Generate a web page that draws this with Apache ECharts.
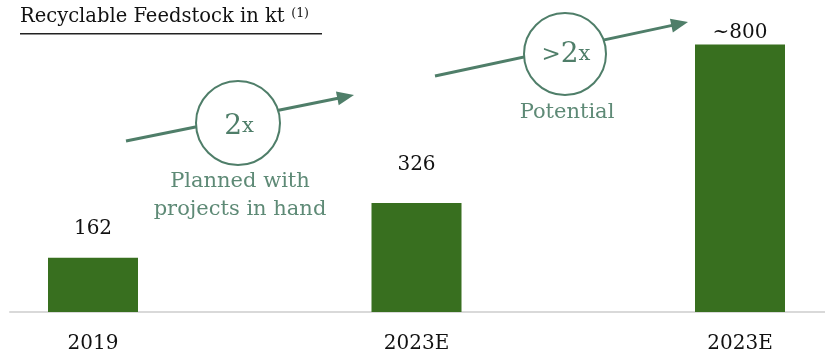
<!DOCTYPE html>
<html>
<head>
<meta charset="utf-8">
<script src="https://cdn.jsdelivr.net/npm/echarts@6/dist/echarts.min.js"></script>
<style>
  html, body { margin: 0; padding: 0; background: #ffffff; }
  #chart { width: 825px; height: 355px; }
</style>
</head>
<body>
<div id="chart"></div>
<script>
// Recyclable feedstock volumes (kt)
const categories = ['2019', '2023E', '2023E'];
const feedstock = [162, 326, 800];
const valueLabels = ['162', '326', '~800'];

const SERIF = "'DejaVu Serif', Georgia, serif";
const BAR_GREEN = '#386f1f';
const NOTE_GREEN = '#4f7e69';
const NOTE_TEXT = '#5e8a76';

const chart = echarts.init(document.getElementById('chart'), null, { renderer: 'canvas' });

// per-bar label offsets above the bar top
const labelDistance = [19, 28, 2];

// arrow with a ring sitting on it, plus the caption below the ring
function arrowGroup(x1, y1, x2, y2, cx, cy, r, ringText, textY, caption, captionY) {
  const dx = x2 - x1, dy = y2 - y1;
  const len = Math.sqrt(dx * dx + dy * dy);
  const ux = dx / len, uy = dy / len;
  const headLen = 17, headHalf = 7;
  const bx = x2 - ux * headLen, by = y2 - uy * headLen;
  const px = -uy, py = ux;
  return [
    { type: 'line', z: 10, shape: { x1: x1, y1: y1, x2: bx + ux * 2, y2: by + uy * 2 },
      style: { stroke: NOTE_GREEN, lineWidth: 3 } },
    { type: 'polygon', z: 10,
      shape: { points: [[x2, y2], [bx + px * headHalf, by + py * headHalf], [bx - px * headHalf, by - py * headHalf]] },
      style: { fill: NOTE_GREEN } },
    { type: 'circle', z: 11, shape: { cx: cx, cy: cy, r: r },
      style: { fill: '#ffffff', stroke: NOTE_GREEN, lineWidth: 2 } },
    { type: 'text', z: 12, x: cx + 1, y: textY,
      style: { text: ringText, rich: {
                 g: { fontFamily: SERIF, fontSize: 23, fill: NOTE_GREEN },
                 b: { fontFamily: SERIF, fontSize: 28, fill: NOTE_GREEN },
                 s: { fontFamily: SERIF, fontSize: 21, fill: NOTE_GREEN } },
               align: 'center', verticalAlign: 'middle' } },
    { type: 'text', z: 12, x: cx + 2, y: captionY,
      style: { text: caption, fontFamily: SERIF, fontSize: 21, lineHeight: 28,
               fill: NOTE_TEXT, align: 'center', verticalAlign: 'middle' } }
  ];
}

const option = {
  backgroundColor: '#ffffff',
  animation: false,
  grid: [
    // bars: category ticks sit on the bar centres
    { left: 93, right: 85, top: 11, bottom: 43 },
    // full-width baseline
    { left: 10, right: 0, top: 11, bottom: 43 }
  ],
  xAxis: [{
    type: 'category',
    gridIndex: 0,
    data: categories,
    boundaryGap: false,
    axisLine: { show: false },
    axisTick: { show: false },
    axisLabel: { color: '#111111', fontFamily: SERIF, fontSize: 20, margin: 22 }
  }, {
    type: 'category',
    gridIndex: 1,
    data: [''],
    axisLine: { show: true, lineStyle: { color: '#d9d9d9', width: 2 } },
    axisTick: { show: false },
    axisLabel: { show: false }
  }],
  yAxis: [
    { type: 'value', gridIndex: 0, min: 0, max: 900, show: false, splitLine: { show: false } },
    { type: 'value', gridIndex: 1, min: 0, max: 900, show: false, splitLine: { show: false } }
  ],
  series: [{
    type: 'bar',
    xAxisIndex: 0,
    yAxisIndex: 0,
    barWidth: 90,
    z: 3,
    itemStyle: { color: BAR_GREEN },
    data: feedstock.map((v, i) => ({
      value: v,
      label: {
        show: true, position: 'top', distance: labelDistance[i],
        formatter: valueLabels[i],
        color: '#111111', fontFamily: SERIF, fontSize: 20
      }
    }))
  }],
  graphic: [
    { type: 'text', left: 20, top: 7,
      style: { text: '{t|Recyclable Feedstock in kt}  {n|(1)}',
               rich: { t: { fontFamily: SERIF, fontSize: 19.5, fill: '#111111' },
                       n: { fontFamily: SERIF, fontSize: 12.5, fill: '#111111', verticalAlign: 'top', padding: [0, 0, 7, 0] } } } },
    { type: 'rect', shape: { x: 20, y: 33, width: 302, height: 1.5 }, style: { fill: '#222222' } },
    ...arrowGroup(126, 141, 354, 95, 238, 123, 42, '{b|2}{s|x}', 127, 'Planned with\nprojects in hand', 196),
    ...arrowGroup(435, 76, 688, 22, 565, 54, 41, '{g|>}{b|2}{s|x}', 55, 'Potential', 113)
  ]
};

chart.setOption(option);
</script>
</body>
</html>
